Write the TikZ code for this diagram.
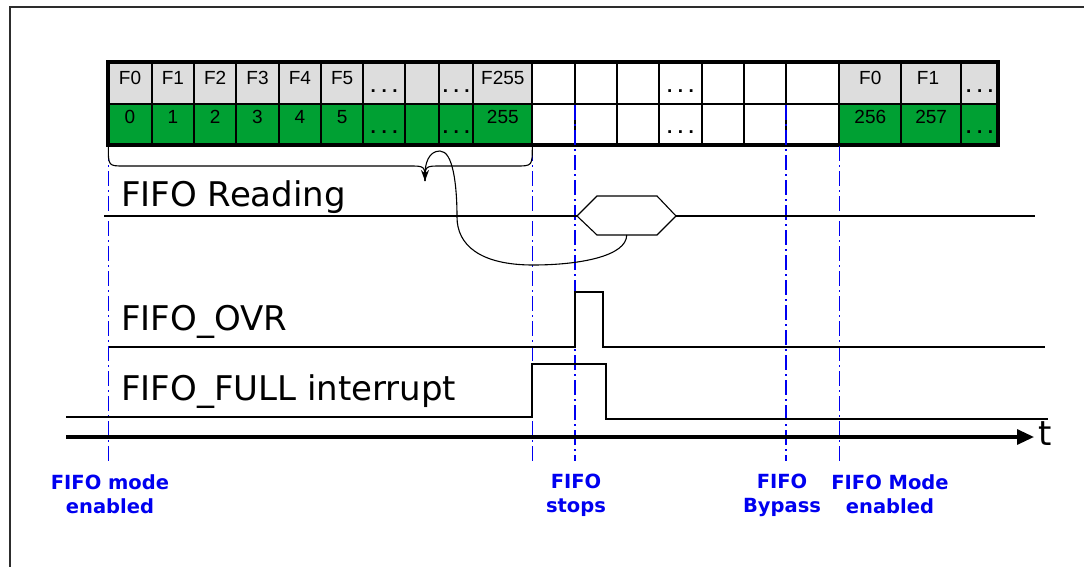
\documentclass[tikz,border=0pt]{standalone}
\usepackage{fontspec}
\setmainfont{Liberation Sans}
\newfontfamily\sigfont{DejaVu Sans}
\newfontfamily\lblfont{DejaVu Sans}
\usetikzlibrary{arrows.meta}
\definecolor{cellgray}{RGB}{221,221,221}
\definecolor{cellgreen}{RGB}{0,160,51}
\definecolor{markblue}{RGB}{0,0,240}
\definecolor{framegray}{RGB}{45,45,45}
\newcommand{\tdots}{\bfseries.\hspace{5.5pt}.\hspace{5.5pt}.}
\begin{document}
\begin{tikzpicture}[x=1pt,y=-1pt,
  celltxt/.style={anchor=base, inner sep=0pt, font=\fontsize{19}{21}\selectfont},
  sig/.style={line width=2.2pt, line join=miter},
  siglabel/.style={anchor=base west, inner sep=0pt, font=\sigfont\fontsize{34}{40}\selectfont},
  marker/.style={markblue, line width=1.3pt, dash pattern=on 15pt off 4pt on 2pt off 4pt},
  evlabel/.style={anchor=north, align=center, text=markblue, inner sep=0pt, font=\lblfont\bfseries\fontsize{19.5}{24}\selectfont},
  thinline/.style={line width=1.1pt}
]
\useasboundingbox (0,0) rectangle (1084,567);
% frame
\draw[framegray, line width=2pt] (10,570) -- (10,7) -- (1090,7);

% table fills
\fill[cellgray] (108.3,62) rectangle (532.3,104);
\fill[cellgreen] (108.3,104) rectangle (532.3,145);
\fill[cellgray] (839.3,62) rectangle (998.3,104);
\fill[cellgreen] (839.3,104) rectangle (998.3,145);
% grid
\foreach \c in {151.7,194,236.3,278.7,321,363.3,405,439.3,473.3,532.3,574.7,617,659.3,701.7,744,786,839.3,901.3,961}
  \draw[line width=1.8pt] (\c,62) -- (\c,145);
\draw[line width=1.8pt] (108.3,104) -- (998.3,104);
\draw[line width=4pt] (108.3,62) rectangle (998.3,145);

% table texts
\foreach \x/\t [count=\i] in {130/F0,172.85/F1,215.15/F2,257.5/F3,299.85/F4,342.15/F5,502.8/F255,870.3/F0,928/F1}
  \node[celltxt] (top\i) at (\x,85) {\t};
\foreach \x/\t [count=\i] in {130/0,172.85/1,215.15/2,257.5/3,299.85/4,342.15/5,502.8/255,870.3/256,931.15/257}
  \node[celltxt] (bot\i) at (\x,124) {\t};
\foreach \x [count=\i] in {384.15,456.3,680.5,979.65}{
  \node[celltxt] (tdot\i) at (\x,92.5) {\tdots};
  \node[celltxt] (bdot\i) at (\x,133.5) {\tdots};
}

% event markers
\draw[marker] (108.3,146) -- (108.3,461);
\draw[marker] (532.3,146) -- (532.3,461);
\draw[marker] (575,105) -- (575,461);
\draw[marker] (786,105) -- (786,461);
\draw[marker] (839.3,146) -- (839.3,461);

% brace
\coordinate (bracetip) at (425,181);
\draw[thinline] (108.3,146) .. controls (108.3,166) .. (124,166) -- (409,166) .. controls (425,166) .. (bracetip);
\draw[thinline] (bracetip) .. controls (425,166) .. (441,166) -- (516,166) .. controls (532.3,166) .. (532.3,146);

% FIFO Reading
\node[siglabel] (lread) at (121,206) {FIFO Reading};
\draw[sig] (104,216) -- (577,216);
\draw[sig] (676,216) -- (1035,216);
\draw[thinline] (577,216) -- (597,196) -- (657,196) -- (676,216) -- (657,235) -- (597,235) -- cycle;
\coordinate (hexb) at (626.7,235);
\draw[thinline, -{Stealth[length=11pt,width=8pt]}] (hexb) .. controls (626.7,256) and (580,265) .. (533,265)
  .. controls (480,265) and (457,245) .. (457,217)
  .. controls (457,185) and (453,151) .. (440,151)
  .. controls (428,151) and (425,165) .. (bracetip);

% FIFO_OVR
\node[siglabel] (lovr) at (121,330) {FIFO\_OVR};
\draw[sig] (109,346.7) -- (575,346.7) -- (575,292.3) -- (603.3,292.3) -- (603.3,346.7) -- (1045,346.7);

% FIFO_FULL
\node[siglabel] (lfull) at (121,400) {FIFO\_FULL interrupt};
\draw[sig] (66,417) -- (531.7,417) -- (531.7,364) -- (606,364) -- (606,419) -- (1048,419);

% time axis
\coordinate (tstart) at (66,437);
\coordinate (tend) at (1034,437);
\draw[line width=3.2pt, -{Triangle[length=17pt,width=15pt]}] (tstart) -- (tend);
\node[siglabel] (tlabel) at (1038,445) {t};

% event labels
\node[evlabel] (e1) at (110,474) {FIFO mode\\enabled};
\node[evlabel] (e2) at (576,474) {FIFO\\stops};
\node[evlabel] (e3) at (782,474) {FIFO\\Bypass};
\node[evlabel] (e4) at (890,474) {FIFO Mode\\enabled};
\end{tikzpicture}
\end{document}
